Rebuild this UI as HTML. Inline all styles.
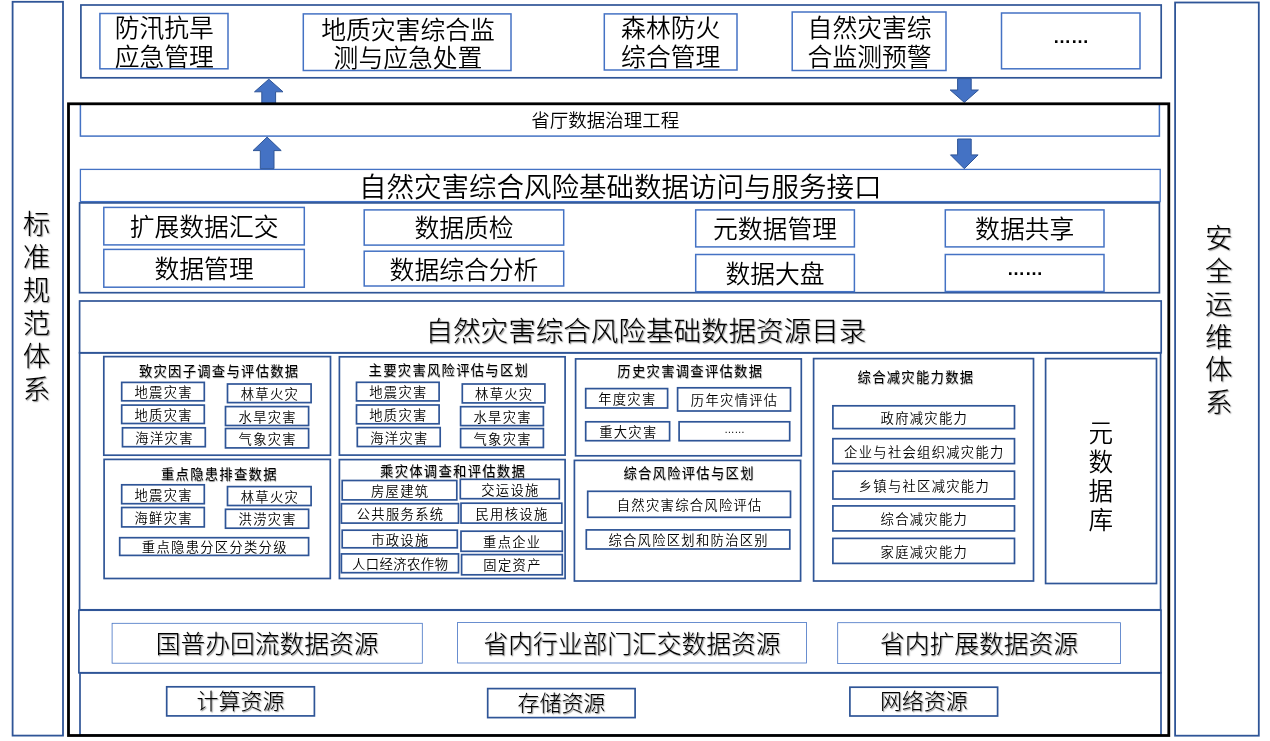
<!DOCTYPE html>
<html lang="zh-CN"><head><meta charset="utf-8"><title>自然灾害综合风险基础数据架构</title>
<style>
html,body{margin:0;padding:0;background:#fff;}
body{width:1270px;height:741px;position:relative;overflow:hidden;font-family:"Liberation Sans","Noto Sans CJK SC",sans-serif;color:#000;}
svg{position:absolute;left:0;top:0;}
#tx{position:absolute;left:0;top:0;width:1270px;height:741px;will-change:transform;}
.t{position:absolute;display:flex;align-items:center;justify-content:center;white-space:nowrap;font-weight:350;}
.b{font-weight:400;}
.sh{font-weight:300;text-shadow:1px 1px 1.2px rgba(0,0,0,.5);}
.sh2{text-shadow:0.5px 0.5px 0.9px rgba(0,0,0,.45);}
.dots{font-family:"Liberation Sans",sans-serif;font-weight:400;}
</style></head><body>
<svg width="1270" height="741" viewBox="0 0 1270 741">
<rect x="12.6" y="1.8" width="50.4" height="733.8" fill="none" stroke="#2f5597" stroke-width="1.8"/>
<rect x="1175.1" y="2.5" width="83.7" height="733.2" fill="none" stroke="#2f5597" stroke-width="1.8"/>
<rect x="80.9" y="5.0" width="1080.3" height="72.8" fill="none" stroke="#2f5597" stroke-width="1.7"/>
<rect x="99.9" y="13.5" width="128.1" height="55.3" fill="none" stroke="#4472c4" stroke-width="1.5"/>
<rect x="303.3" y="13.9" width="207.7" height="56.6" fill="none" stroke="#4472c4" stroke-width="1.5"/>
<rect x="604.3" y="13.9" width="132.7" height="56.1" fill="none" stroke="#4472c4" stroke-width="1.5"/>
<rect x="792.2" y="12.0" width="153.8" height="58.5" fill="none" stroke="#4472c4" stroke-width="1.5"/>
<rect x="1001.5" y="13.0" width="138.5" height="55.8" fill="none" stroke="#4472c4" stroke-width="1.5"/>
<rect x="80.4" y="104.0" width="1079.0" height="32.1" fill="none" stroke="#4472c4" stroke-width="1.5"/>
<rect x="80.4" y="169.4" width="1079.8" height="32.2" fill="none" stroke="#4472c4" stroke-width="1.3"/>
<rect x="79.6" y="202.9" width="1079.8" height="89.8" fill="none" stroke="#2f5597" stroke-width="1.7"/>
<rect x="103.8" y="207.4" width="200.5" height="37.5" fill="none" stroke="#4472c4" stroke-width="1.5"/>
<rect x="103.8" y="249.4" width="200.5" height="37.8" fill="none" stroke="#4472c4" stroke-width="1.5"/>
<rect x="364.2" y="209.9" width="199.5" height="35.2" fill="none" stroke="#4472c4" stroke-width="1.5"/>
<rect x="364.2" y="251.2" width="199.5" height="34.8" fill="none" stroke="#4472c4" stroke-width="1.5"/>
<rect x="695.7" y="209.9" width="158.7" height="37.0" fill="none" stroke="#4472c4" stroke-width="1.5"/>
<rect x="695.7" y="254.5" width="158.7" height="37.2" fill="none" stroke="#4472c4" stroke-width="1.5"/>
<rect x="945.3" y="209.9" width="158.7" height="37.0" fill="none" stroke="#4472c4" stroke-width="1.5"/>
<rect x="945.3" y="254.5" width="158.7" height="37.0" fill="none" stroke="#4472c4" stroke-width="1.5"/>
<rect x="79.6" y="301.0" width="1081.6" height="51.8" fill="none" stroke="#2f5597" stroke-width="1.7"/>
<rect x="79.6" y="352.8" width="1081.0" height="257.0" fill="none" stroke="#2f5597" stroke-width="1.7"/>
<rect x="78.9" y="610.2" width="1082.1" height="62.6" fill="none" stroke="#2f5597" stroke-width="1.7"/>
<rect x="80.0" y="672.8" width="1081.0" height="62.4" fill="none" stroke="#2f5597" stroke-width="1.7"/>
<polygon points="268.8,79.2 283.0,91.8 275.6,91.8 275.6,103.4 261.8,103.4 261.8,91.8 254.5,91.8" fill="#4472c4" stroke="#2f5597" stroke-width="1.0"/>
<polygon points="267.1,137.1 281.2,150.6 274.0,150.6 274.0,168.7 260.3,168.7 260.3,150.6 253.0,150.6" fill="#4472c4" stroke="#2f5597" stroke-width="1.0"/>
<polygon points="964.3,102.4 978.4,90.0 971.2,90.0 971.2,78.6 957.6,78.6 957.6,90.0 950.2,90.0" fill="#4472c4" stroke="#2f5597" stroke-width="1.0"/>
<polygon points="964.3,168.7 978.1,154.9 971.2,154.9 971.2,139.0 957.6,139.0 957.6,154.9 950.5,154.9" fill="#4472c4" stroke="#2f5597" stroke-width="1.0"/>
<rect x="103.8" y="356.6" width="226.7" height="98.6" fill="none" stroke="#2f5597" stroke-width="1.7"/>
<rect x="121.7" y="382.4" width="82.6" height="18.4" fill="none" stroke="#2f5597" stroke-width="1.7"/>
<rect x="227.5" y="384.0" width="83.6" height="18.6" fill="none" stroke="#2f5597" stroke-width="1.7"/>
<rect x="121.7" y="405.1" width="82.6" height="18.4" fill="none" stroke="#2f5597" stroke-width="1.7"/>
<rect x="225.5" y="406.6" width="83.1" height="18.9" fill="none" stroke="#2f5597" stroke-width="1.7"/>
<rect x="122.5" y="427.8" width="82.8" height="18.9" fill="none" stroke="#2f5597" stroke-width="1.7"/>
<rect x="225.5" y="428.5" width="83.1" height="19.4" fill="none" stroke="#2f5597" stroke-width="1.7"/>
<rect x="104.1" y="459.4" width="226.2" height="119.1" fill="none" stroke="#2f5597" stroke-width="1.7"/>
<rect x="121.7" y="484.8" width="82.6" height="18.9" fill="none" stroke="#2f5597" stroke-width="1.7"/>
<rect x="227.5" y="486.6" width="83.6" height="18.9" fill="none" stroke="#2f5597" stroke-width="1.7"/>
<rect x="121.7" y="507.5" width="82.6" height="19.4" fill="none" stroke="#2f5597" stroke-width="1.7"/>
<rect x="225.5" y="509.3" width="83.1" height="18.9" fill="none" stroke="#2f5597" stroke-width="1.7"/>
<rect x="119.7" y="537.7" width="188.9" height="17.7" fill="none" stroke="#2f5597" stroke-width="1.7"/>
<rect x="339.4" y="356.8" width="225.7" height="98.3" fill="none" stroke="#2f5597" stroke-width="1.7"/>
<rect x="356.5" y="382.3" width="82.6" height="18.6" fill="none" stroke="#2f5597" stroke-width="1.7"/>
<rect x="462.3" y="384.0" width="82.6" height="18.9" fill="none" stroke="#2f5597" stroke-width="1.7"/>
<rect x="356.5" y="405.0" width="82.6" height="18.8" fill="none" stroke="#2f5597" stroke-width="1.7"/>
<rect x="460.6" y="406.7" width="82.8" height="18.9" fill="none" stroke="#2f5597" stroke-width="1.7"/>
<rect x="357.3" y="427.6" width="82.9" height="18.9" fill="none" stroke="#2f5597" stroke-width="1.7"/>
<rect x="460.6" y="428.6" width="82.8" height="18.9" fill="none" stroke="#2f5597" stroke-width="1.7"/>
<rect x="339.4" y="459.6" width="225.7" height="118.9" fill="none" stroke="#2f5597" stroke-width="1.7"/>
<rect x="342.2" y="480.5" width="114.6" height="19.4" fill="none" stroke="#2f5597" stroke-width="1.7"/>
<rect x="460.3" y="479.3" width="99.0" height="19.4" fill="none" stroke="#2f5597" stroke-width="1.7"/>
<rect x="341.4" y="503.7" width="117.1" height="19.4" fill="none" stroke="#2f5597" stroke-width="1.7"/>
<rect x="461.0" y="503.2" width="100.8" height="19.9" fill="none" stroke="#2f5597" stroke-width="1.7"/>
<rect x="342.2" y="530.2" width="115.1" height="17.6" fill="none" stroke="#2f5597" stroke-width="1.7"/>
<rect x="461.0" y="531.2" width="101.3" height="20.1" fill="none" stroke="#2f5597" stroke-width="1.7"/>
<rect x="341.4" y="553.9" width="117.1" height="18.8" fill="none" stroke="#2f5597" stroke-width="1.7"/>
<rect x="461.6" y="554.6" width="100.7" height="20.2" fill="none" stroke="#2f5597" stroke-width="1.7"/>
<rect x="575.6" y="358.9" width="225.7" height="96.9" fill="none" stroke="#2f5597" stroke-width="1.7"/>
<rect x="585.7" y="388.6" width="81.9" height="19.4" fill="none" stroke="#2f5597" stroke-width="1.7"/>
<rect x="677.6" y="387.8" width="112.9" height="23.2" fill="none" stroke="#2f5597" stroke-width="1.7"/>
<rect x="585.7" y="421.8" width="83.9" height="18.9" fill="none" stroke="#2f5597" stroke-width="1.7"/>
<rect x="679.1" y="421.8" width="110.6" height="18.9" fill="none" stroke="#2f5597" stroke-width="1.7"/>
<rect x="574.4" y="460.4" width="226.2" height="120.6" fill="none" stroke="#2f5597" stroke-width="1.7"/>
<rect x="587.7" y="491.3" width="202.8" height="26.0" fill="none" stroke="#2f5597" stroke-width="1.7"/>
<rect x="586.3" y="529.9" width="203.5" height="19.1" fill="none" stroke="#2f5597" stroke-width="1.7"/>
<rect x="813.6" y="358.6" width="219.9" height="222.4" fill="none" stroke="#2f5597" stroke-width="1.7"/>
<rect x="832.9" y="405.8" width="181.6" height="22.8" fill="none" stroke="#2f5597" stroke-width="1.7"/>
<rect x="832.9" y="438.7" width="181.6" height="24.9" fill="none" stroke="#2f5597" stroke-width="1.7"/>
<rect x="832.9" y="471.2" width="181.6" height="27.8" fill="none" stroke="#2f5597" stroke-width="1.7"/>
<rect x="832.9" y="505.9" width="181.6" height="25.0" fill="none" stroke="#2f5597" stroke-width="1.7"/>
<rect x="832.9" y="538.4" width="181.6" height="25.0" fill="none" stroke="#2f5597" stroke-width="1.7"/>
<rect x="1045.6" y="358.6" width="110.9" height="224.9" fill="none" stroke="#2f5597" stroke-width="1.7"/>
<rect x="112.1" y="623.3" width="310.2" height="39.9" fill="none" stroke="#4472c4" stroke-width="0.8"/>
<rect x="457.6" y="622.4" width="349.0" height="40.6" fill="none" stroke="#4472c4" stroke-width="0.8"/>
<rect x="837.7" y="622.7" width="282.7" height="40.9" fill="none" stroke="#4472c4" stroke-width="0.8"/>
<rect x="166.7" y="686.8" width="147.7" height="29.1" fill="none" stroke="#2f5597" stroke-width="1.7"/>
<rect x="487.7" y="688.6" width="147.4" height="29.0" fill="none" stroke="#2f5597" stroke-width="1.7"/>
<rect x="849.9" y="687.2" width="147.7" height="28.8" fill="none" stroke="#2f5597" stroke-width="1.7"/>
<rect x="68.5" y="103.8" width="1100.3" height="631.7" fill="none" stroke="#000" stroke-width="2.8"/>
</svg>
<div id="tx">
<div class="t " style="left:109.7px;top:213.1px;width:188.8px;height:29.8px;font-size:24.8px;line-height:29.8px;">扩展数据汇交</div>
<div class="t " style="left:134.5px;top:255.2px;width:139.2px;height:29.8px;font-size:24.8px;line-height:29.8px;">数据管理</div>
<div class="t " style="left:394.4px;top:214.4px;width:139.2px;height:29.8px;font-size:24.8px;line-height:29.8px;">数据质检</div>
<div class="t " style="left:369.6px;top:255.5px;width:188.8px;height:29.8px;font-size:24.8px;line-height:29.8px;">数据综合分析</div>
<div class="t " style="left:693.0px;top:215.3px;width:164.0px;height:29.8px;font-size:24.8px;line-height:29.8px;">元数据管理</div>
<div class="t " style="left:705.4px;top:260.0px;width:139.2px;height:29.8px;font-size:24.8px;line-height:29.8px;">数据大盘</div>
<div class="t " style="left:955.1px;top:215.3px;width:139.2px;height:29.8px;font-size:24.8px;line-height:29.8px;">数据共享</div>
<div class="t b sh2" style="left:125.4px;top:363.9px;width:186.3px;height:16.0px;font-size:13.3px;line-height:16.0px;letter-spacing:1.3px;text-indent:1.3px;">致灾因子调查与评估数据</div>
<div class="t " style="left:116.4px;top:385.2px;width:93.2px;height:16.0px;font-size:13.3px;line-height:16.0px;letter-spacing:1.3px;text-indent:1.3px;">地震灾害</div>
<div class="t " style="left:222.7px;top:386.9px;width:93.2px;height:16.0px;font-size:13.3px;line-height:16.0px;letter-spacing:1.3px;text-indent:1.3px;">林草火灾</div>
<div class="t " style="left:116.4px;top:407.9px;width:93.2px;height:16.0px;font-size:13.3px;line-height:16.0px;letter-spacing:1.3px;text-indent:1.3px;">地质灾害</div>
<div class="t " style="left:220.5px;top:409.7px;width:93.2px;height:16.0px;font-size:13.3px;line-height:16.0px;letter-spacing:1.3px;text-indent:1.3px;">水旱灾害</div>
<div class="t " style="left:117.3px;top:430.9px;width:93.2px;height:16.0px;font-size:13.3px;line-height:16.0px;letter-spacing:1.3px;text-indent:1.3px;">海洋灾害</div>
<div class="t " style="left:220.5px;top:431.8px;width:93.2px;height:16.0px;font-size:13.3px;line-height:16.0px;letter-spacing:1.3px;text-indent:1.3px;">气象灾害</div>
<div class="t b sh2" style="left:145.5px;top:467.0px;width:146.4px;height:16.0px;font-size:13.3px;line-height:16.0px;letter-spacing:1.3px;text-indent:1.3px;">重点隐患排查数据</div>
<div class="t " style="left:116.4px;top:487.9px;width:93.2px;height:16.0px;font-size:13.3px;line-height:16.0px;letter-spacing:1.3px;text-indent:1.3px;">地震灾害</div>
<div class="t " style="left:222.7px;top:489.7px;width:93.2px;height:16.0px;font-size:13.3px;line-height:16.0px;letter-spacing:1.3px;text-indent:1.3px;">林草火灾</div>
<div class="t " style="left:116.4px;top:510.8px;width:93.2px;height:16.0px;font-size:13.3px;line-height:16.0px;letter-spacing:1.3px;text-indent:1.3px;">海鲜灾害</div>
<div class="t " style="left:220.5px;top:512.4px;width:93.2px;height:16.0px;font-size:13.3px;line-height:16.0px;letter-spacing:1.3px;text-indent:1.3px;">洪涝灾害</div>
<div class="t " style="left:127.7px;top:540.2px;width:173.0px;height:16.0px;font-size:13.3px;line-height:16.0px;letter-spacing:1.3px;text-indent:1.3px;">重点隐患分区分类分级</div>
<div class="t b sh2" style="left:355.1px;top:363.4px;width:186.3px;height:16.0px;font-size:13.3px;line-height:16.0px;letter-spacing:1.3px;text-indent:1.3px;">主要灾害风险评估与区划</div>
<div class="t " style="left:351.2px;top:385.2px;width:93.2px;height:16.0px;font-size:13.3px;line-height:16.0px;letter-spacing:1.3px;text-indent:1.3px;">地震灾害</div>
<div class="t " style="left:457.0px;top:387.1px;width:93.2px;height:16.0px;font-size:13.3px;line-height:16.0px;letter-spacing:1.3px;text-indent:1.3px;">林草火灾</div>
<div class="t " style="left:351.2px;top:408.0px;width:93.2px;height:16.0px;font-size:13.3px;line-height:16.0px;letter-spacing:1.3px;text-indent:1.3px;">地质灾害</div>
<div class="t " style="left:455.4px;top:409.8px;width:93.2px;height:16.0px;font-size:13.3px;line-height:16.0px;letter-spacing:1.3px;text-indent:1.3px;">水旱灾害</div>
<div class="t " style="left:352.1px;top:430.7px;width:93.2px;height:16.0px;font-size:13.3px;line-height:16.0px;letter-spacing:1.3px;text-indent:1.3px;">海洋灾害</div>
<div class="t " style="left:455.4px;top:431.7px;width:93.2px;height:16.0px;font-size:13.3px;line-height:16.0px;letter-spacing:1.3px;text-indent:1.3px;">气象灾害</div>
<div class="t b sh2" style="left:365.9px;top:464.0px;width:173.0px;height:16.0px;font-size:13.3px;line-height:16.0px;letter-spacing:1.3px;text-indent:1.3px;">乘灾体调查和评估数据</div>
<div class="t " style="left:352.9px;top:483.8px;width:93.2px;height:16.0px;font-size:13.3px;line-height:16.0px;letter-spacing:1.3px;text-indent:1.3px;">房屋建筑</div>
<div class="t " style="left:463.2px;top:482.6px;width:93.2px;height:16.0px;font-size:13.3px;line-height:16.0px;letter-spacing:1.3px;text-indent:1.3px;">交运设施</div>
<div class="t " style="left:340.0px;top:507.0px;width:119.8px;height:16.0px;font-size:13.3px;line-height:16.0px;letter-spacing:1.3px;text-indent:1.3px;">公共服务系统</div>
<div class="t " style="left:458.1px;top:506.8px;width:106.5px;height:16.0px;font-size:13.3px;line-height:16.0px;letter-spacing:1.3px;text-indent:1.3px;">民用核设施</div>
<div class="t " style="left:353.1px;top:532.6px;width:93.2px;height:16.0px;font-size:13.3px;line-height:16.0px;letter-spacing:1.3px;text-indent:1.3px;">市政设施</div>
<div class="t " style="left:465.0px;top:534.9px;width:93.2px;height:16.0px;font-size:13.3px;line-height:16.0px;letter-spacing:1.3px;text-indent:1.3px;">重点企业</div>
<div class="t " style="left:333.4px;top:556.9px;width:133.1px;height:16.0px;font-size:13.3px;line-height:16.0px;letter-spacing:0.5px;text-indent:0.5px;">人口经济农作物</div>
<div class="t " style="left:465.3px;top:558.3px;width:93.2px;height:16.0px;font-size:13.3px;line-height:16.0px;letter-spacing:1.3px;text-indent:1.3px;">固定资产</div>
<div class="t b sh2" style="left:603.2px;top:364.0px;width:173.0px;height:16.0px;font-size:13.3px;line-height:16.0px;letter-spacing:1.3px;text-indent:1.3px;">历史灾害调查评估数据</div>
<div class="t " style="left:580.1px;top:391.9px;width:93.2px;height:16.0px;font-size:13.3px;line-height:16.0px;letter-spacing:1.3px;text-indent:1.3px;">年度灾害</div>
<div class="t " style="left:674.1px;top:393.0px;width:119.8px;height:16.0px;font-size:13.3px;line-height:16.0px;letter-spacing:1.3px;text-indent:1.3px;">历年灾情评估</div>
<div class="t " style="left:581.1px;top:424.9px;width:93.2px;height:16.0px;font-size:13.3px;line-height:16.0px;letter-spacing:1.3px;text-indent:1.3px;">重大灾害</div>
<div class="t b sh2" style="left:608.6px;top:466.0px;width:159.7px;height:16.0px;font-size:13.3px;line-height:16.0px;letter-spacing:1.3px;text-indent:1.3px;">综合风险评估与区划</div>
<div class="t " style="left:602.6px;top:497.9px;width:173.0px;height:16.0px;font-size:13.3px;line-height:16.0px;letter-spacing:1.3px;text-indent:1.3px;">自然灾害综合风险评估</div>
<div class="t " style="left:594.9px;top:533.1px;width:186.3px;height:16.0px;font-size:13.3px;line-height:16.0px;letter-spacing:1.3px;text-indent:1.3px;">综合风险区划和防治区别</div>
<div class="t b sh2" style="left:842.1px;top:369.6px;width:146.4px;height:16.0px;font-size:13.3px;line-height:16.0px;letter-spacing:1.3px;text-indent:1.3px;">综合减灾能力数据</div>
<div class="t " style="left:863.8px;top:410.8px;width:119.8px;height:16.0px;font-size:13.3px;line-height:16.0px;letter-spacing:1.3px;text-indent:1.3px;">政府减灾能力</div>
<div class="t " style="left:830.6px;top:444.8px;width:186.3px;height:16.0px;font-size:13.3px;line-height:16.0px;letter-spacing:1.3px;text-indent:1.3px;">企业与社会组织减灾能力</div>
<div class="t " style="left:843.9px;top:478.7px;width:159.7px;height:16.0px;font-size:13.3px;line-height:16.0px;letter-spacing:1.3px;text-indent:1.3px;">乡镇与社区减灾能力</div>
<div class="t " style="left:863.8px;top:512.0px;width:119.8px;height:16.0px;font-size:13.3px;line-height:16.0px;letter-spacing:1.3px;text-indent:1.3px;">综合减灾能力</div>
<div class="t " style="left:863.8px;top:544.5px;width:119.8px;height:16.0px;font-size:13.3px;line-height:16.0px;letter-spacing:1.3px;text-indent:1.3px;">家庭减灾能力</div>
<div class="t sh" style="left:135.8px;top:630.4px;width:262.8px;height:29.7px;font-size:24.75px;line-height:29.7px;">国普办回流数据资源</div>
<div class="t sh" style="left:463.6px;top:629.9px;width:337.0px;height:29.7px;font-size:24.75px;line-height:29.7px;">省内行业部门汇交数据资源</div>
<div class="t sh" style="left:860.1px;top:630.3px;width:238.0px;height:29.7px;font-size:24.75px;line-height:29.7px;">省内扩展数据资源</div>
<div class="t sh" style="left:176.6px;top:688.8px;width:127.8px;height:26.3px;font-size:21.95px;line-height:26.3px;">计算资源</div>
<div class="t sh" style="left:497.5px;top:690.5px;width:127.8px;height:26.3px;font-size:21.95px;line-height:26.3px;">存储资源</div>
<div class="t sh" style="left:859.9px;top:689.0px;width:127.8px;height:26.3px;font-size:21.95px;line-height:26.3px;">网络资源</div>
<div class="t " style="left:94.7px;top:13.6px;width:139.2px;height:29.8px;font-size:24.8px;line-height:29.8px;">防汛抗旱</div>
<div class="t " style="left:94.7px;top:42.9px;width:139.2px;height:29.8px;font-size:24.8px;line-height:29.8px;">应急管理</div>
<div class="t " style="left:301.2px;top:15.5px;width:213.6px;height:29.8px;font-size:24.8px;line-height:29.8px;">地质灾害综合监</div>
<div class="t " style="left:313.6px;top:43.9px;width:188.8px;height:29.8px;font-size:24.8px;line-height:29.8px;">测与应急处置</div>
<div class="t " style="left:601.1px;top:14.2px;width:139.2px;height:29.8px;font-size:24.8px;line-height:29.8px;">森林防火</div>
<div class="t " style="left:601.1px;top:43.4px;width:139.2px;height:29.8px;font-size:24.8px;line-height:29.8px;">综合管理</div>
<div class="t " style="left:787.6px;top:13.6px;width:164.0px;height:29.8px;font-size:24.8px;line-height:29.8px;">自然灾害综</div>
<div class="t " style="left:787.6px;top:42.6px;width:164.0px;height:29.8px;font-size:24.8px;line-height:29.8px;">合监测预警</div>
<div class="t dots" style="left:1033.0px;top:26.8px;width:76.0px;height:21.6px;font-size:18px;line-height:21.6px;font-weight:700;">……</div>
<div class="t dots" style="left:987.1px;top:258.7px;width:76.0px;height:21.6px;font-size:18px;line-height:21.6px;font-weight:700;">……</div>
<div class="t dots" style="left:704.2px;top:423.7px;width:60.6px;height:12.4px;font-size:10.3px;line-height:12.4px;">……</div>
<div class="t " style="left:511.2px;top:110.1px;width:188.0px;height:22.2px;font-size:18.5px;line-height:22.2px;">省厅数据治理工程</div>
<div class="t " style="left:339.0px;top:171.3px;width:562.5px;height:33.0px;font-size:27.5px;line-height:33.0px;">自然灾害综合风险基础数据访问与服务接口</div>
<div class="t sh" style="left:406.7px;top:315.0px;width:480.8px;height:33.1px;font-size:27.55px;line-height:33.1px;margin-left:-1.2px;">自然灾害综合风险基础数据资源目录</div>
<div class="t sh" style="left:2.8px;top:207.5px;width:67.5px;height:33.0px;font-size:27.5px;line-height:33.0px;">标</div>
<div class="t sh" style="left:2.8px;top:240.6px;width:67.5px;height:33.0px;font-size:27.5px;line-height:33.0px;">准</div>
<div class="t sh" style="left:2.8px;top:273.7px;width:67.5px;height:33.0px;font-size:27.5px;line-height:33.0px;">规</div>
<div class="t sh" style="left:2.8px;top:306.8px;width:67.5px;height:33.0px;font-size:27.5px;line-height:33.0px;">范</div>
<div class="t sh" style="left:2.8px;top:339.9px;width:67.5px;height:33.0px;font-size:27.5px;line-height:33.0px;">体</div>
<div class="t sh" style="left:2.8px;top:373.0px;width:67.5px;height:33.0px;font-size:27.5px;line-height:33.0px;">系</div>
<div class="t sh" style="left:1185.0px;top:222.0px;width:67.5px;height:33.0px;font-size:27.5px;line-height:33.0px;">安</div>
<div class="t sh" style="left:1185.0px;top:254.9px;width:67.5px;height:33.0px;font-size:27.5px;line-height:33.0px;">全</div>
<div class="t sh" style="left:1185.0px;top:287.7px;width:67.5px;height:33.0px;font-size:27.5px;line-height:33.0px;">运</div>
<div class="t sh" style="left:1185.0px;top:320.6px;width:67.5px;height:33.0px;font-size:27.5px;line-height:33.0px;">维</div>
<div class="t sh" style="left:1185.0px;top:353.4px;width:67.5px;height:33.0px;font-size:27.5px;line-height:33.0px;">体</div>
<div class="t sh" style="left:1185.0px;top:386.2px;width:67.5px;height:33.0px;font-size:27.5px;line-height:33.0px;">系</div>
<div class="t " style="left:1068.6px;top:418.8px;width:64.6px;height:29.5px;font-size:24.6px;line-height:29.5px;">元</div>
<div class="t " style="left:1068.6px;top:448.1px;width:64.6px;height:29.5px;font-size:24.6px;line-height:29.5px;">数</div>
<div class="t " style="left:1068.6px;top:477.1px;width:64.6px;height:29.5px;font-size:24.6px;line-height:29.5px;">据</div>
<div class="t " style="left:1068.6px;top:506.2px;width:64.6px;height:29.5px;font-size:24.6px;line-height:29.5px;">库</div>
</div>
</body></html>
